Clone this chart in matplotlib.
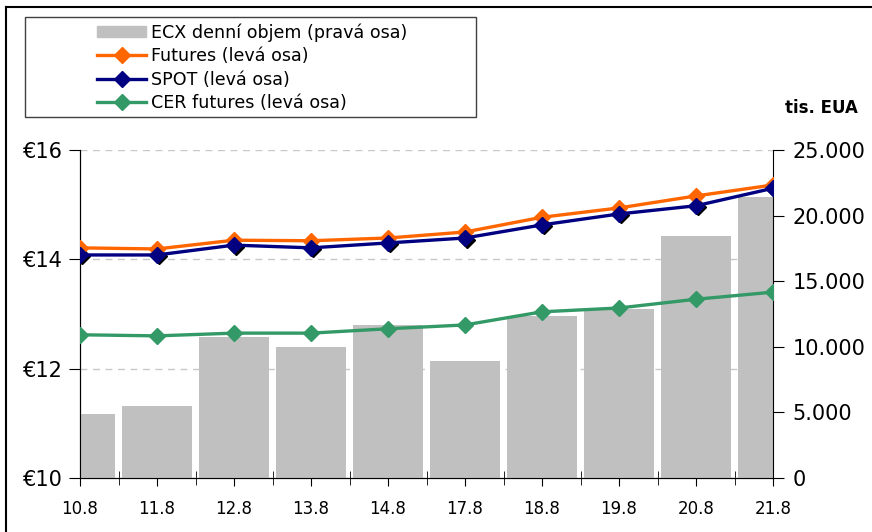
import numpy as np
import matplotlib.pyplot as plt
from matplotlib.patches import Rectangle
from matplotlib.lines import Line2D
from matplotlib.ticker import FuncFormatter
import matplotlib.transforms as mtransforms

# data
dates = ['10.8', '11.8', '12.8', '13.8', '14.8', '17.8', '18.8', '19.8', '20.8', '21.8']
ecx_volume = [4880, 5490, 10750, 9980, 11660, 8920, 12350, 12880, 18450, 21420]  # tis. EUA
futures = [14.21, 14.19, 14.35, 14.34, 14.39, 14.50, 14.77, 14.94, 15.16, 15.36]
spot = [14.08, 14.08, 14.26, 14.21, 14.30, 14.39, 14.63, 14.83, 14.98, 15.30]
cer_futures = [12.62, 12.60, 12.65, 12.65, 12.73, 12.80, 13.04, 13.11, 13.27, 13.40]

c_bar = '#c0c0c0'
c_fut = '#ff6600'
c_spot = '#000080'
c_cer = '#339966'

W, H = 872, 532
fig = plt.figure(figsize=(W / 100, H / 100), dpi=100)
plt.rcParams['font.family'] = ['DejaVu Sans']

pos = [80 / W, (H - 478) / H, (773 - 80) / W, (478 - 150) / H]
x = np.arange(len(dates))
ms = 8

# left axis: ticks + grid (bottom layer)
ax = fig.add_axes(pos)
ax.set_zorder(1)
ax.set_xlim(0, len(dates) - 1)
ax.set_ylim(10, 16)
ax.set_yticks([10, 12, 14, 16])
ax.yaxis.set_major_formatter(FuncFormatter(lambda v, p: '€%d' % v))
ax.grid(axis='y', color='#c8c8c8', linestyle=(0, (5, 4)), linewidth=1)
ax.set_xticks(x)
ax.set_xticklabels(dates, fontsize=12)
ax.set_xticks(x[:-1] + 0.5, minor=True)
ax.tick_params(axis='x', which='major', direction='out', length=6, pad=10)
ax.tick_params(axis='x', which='minor', direction='inout', length=10)
ax.tick_params(axis='y', direction='out', length=8, labelsize=15, pad=4)
for s in ['top', 'right']:
    ax.spines[s].set_visible(False)

# right axis: volume bars
ax2 = ax.twinx()
ax2.set_zorder(2)
ax2.patch.set_visible(False)
bars = ax2.bar(x, ecx_volume, width=0.91, color=c_bar, label='ECX denní objem (pravá osa)')
ax2.set_ylim(0, 25000)
ax2.set_yticks(range(0, 25001, 5000))
ax2.yaxis.set_major_formatter(FuncFormatter(lambda v, p: '{:,.0f}'.format(v).replace(',', '.')))
ax2.tick_params(axis='y', direction='out', length=8, labelsize=15, pad=6)
ax2.spines['top'].set_visible(False)
ax2.set_xlim(0, len(dates) - 1)

# price lines on top
ax3 = ax.twinx()
ax3.set_zorder(3)
ax3.patch.set_visible(False)
ax3.set_ylim(10, 16)
ax3.set_xlim(0, len(dates) - 1)
ax3.axis('off')
shadow = mtransforms.offset_copy(ax3.transData, fig=fig, x=2, y=-1.5, units='dots')
ax3.plot(x, spot, linestyle='none', marker='D', markersize=ms, color='black', transform=shadow)
ax3.plot(x, futures, color=c_fut, lw=2.4, marker='D', markersize=ms, label='Futures (levá osa)')
ax3.plot(x, spot, color=c_spot, lw=2.4, marker='D', markersize=ms, label='SPOT (levá osa)')
ax3.plot(x, cer_futures, color=c_cer, lw=2.4, marker='D', markersize=ms, label='CER futures (levá osa)')

handles = [Rectangle((0, 0), 1, 1, color=c_bar),
           Line2D([], [], color=c_fut, lw=2.4, marker='D', markersize=ms),
           Line2D([], [], color=c_spot, lw=2.4, marker='D', markersize=ms),
           Line2D([], [], color=c_cer, lw=2.4, marker='D', markersize=ms)]
labels = ['ECX denní objem (pravá osa)', 'Futures (levá osa)', 'SPOT (levá osa)', 'CER futures (levá osa)']
leg = fig.legend(handles, labels, loc='upper left', bbox_to_anchor=(97 / W, 1 - 23 / H),
                 frameon=False, fontsize=12.6, handlelength=2.8, handleheight=0.6,
                 handletextpad=0.3, labelspacing=0.32, borderpad=0, borderaxespad=0)

# legend frame and outer border
fig.patches.append(Rectangle((25 / W, 1 - 117 / H), (476 - 25) / W, (117 - 17) / H,
                             transform=fig.transFigure, fill=False, edgecolor='#404040', lw=1))
fig.lines.append(Line2D([6 / W, 1], [1 - 7 / H, 1 - 7 / H], transform=fig.transFigure, color='black', lw=1.5))
fig.lines.append(Line2D([6 / W, 6 / W], [0, 1 - 7 / H], transform=fig.transFigure, color='black', lw=1.5))

fig.text(858 / W, 1 - 108 / H, 'tis. EUA', ha='right', va='center', fontsize=12, fontweight='bold')

fig.savefig('out.png', dpi=100)
